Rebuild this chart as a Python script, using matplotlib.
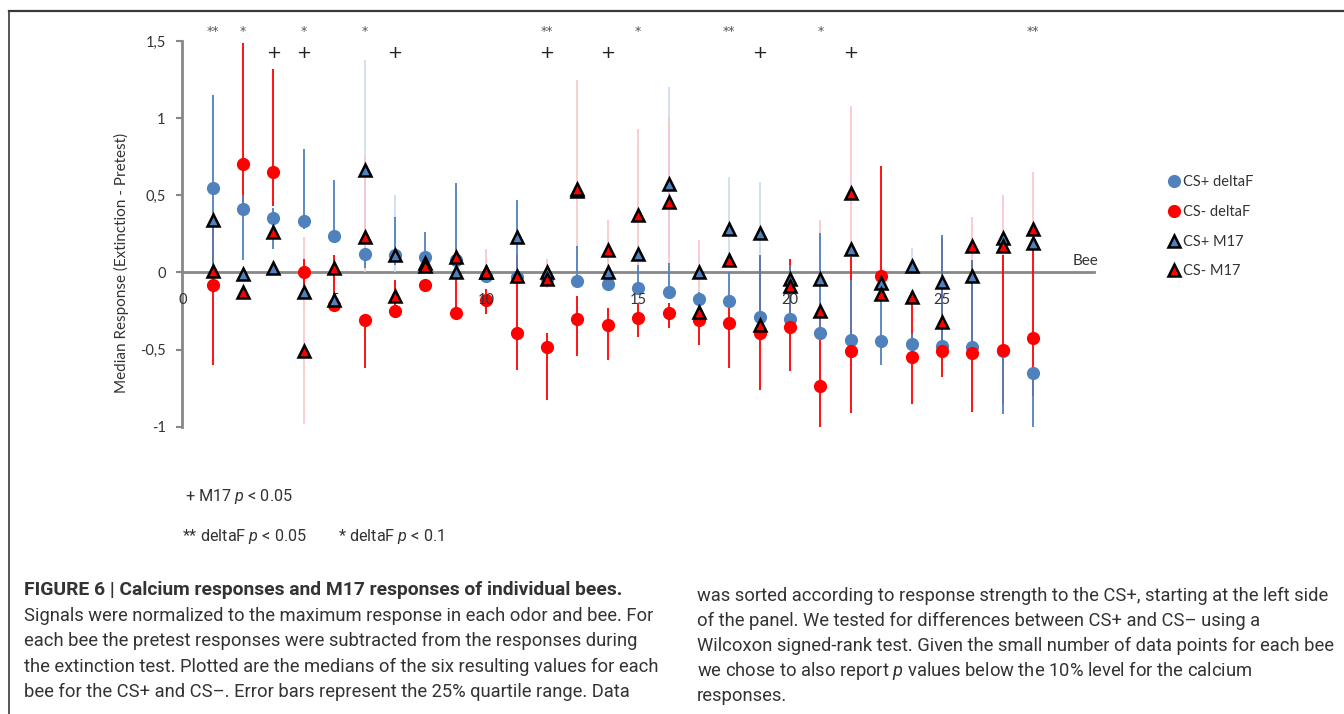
import numpy as np
import matplotlib
matplotlib.use('Agg')
import matplotlib.pyplot as plt
from matplotlib.lines import Line2D

plt.rcParams['mathtext.fontset'] = 'custom'
plt.rcParams['mathtext.it'] = 'Roboto:italic'
plt.rcParams['mathtext.rm'] = 'Roboto'

# ---- data (bees sorted by CS+ response) ----
bees = np.arange(1, 29)

csp_df = [0.55, 0.41, 0.355, 0.335, 0.235, 0.117, 0.11, 0.10, 0.08, -0.02, -0.03, -0.04, -0.055, -0.075,
          -0.10, -0.125, -0.17, -0.185, -0.29, -0.30, -0.395, -0.44, -0.445, -0.465, -0.475, -0.485, -0.51, -0.65]
csp_df_lo = [0.0, 0.08, 0.15, 0.28, 0.20, 0.03, 0.05, 0.05, 0.0, -0.05, -0.05, -0.05, -0.06, -0.09,
             -0.10, -0.125, -0.20, -0.20, -0.30, -0.31, -0.40, -0.45, -0.60, -0.48, -0.49, -0.50, -0.92, -1.0]
csp_df_hi = [1.15, 0.50, 0.42, 0.80, 0.60, 0.15, 0.36, 0.26, 0.58, 0.02, 0.47, 0.0, 0.17, -0.05,
             0.05, 0.06, -0.13, 0.0, 0.11, 0.05, 0.255, -0.05, -0.15, -0.40, 0.24, 0.08, -0.50, -0.62]

csm_df = [-0.08, 0.70, 0.65, 0.0, -0.21, -0.31, -0.25, -0.08, -0.265, -0.18, -0.39, -0.485, -0.30, -0.34,
          -0.295, -0.265, -0.31, -0.33, -0.395, -0.355, -0.735, -0.51, -0.025, -0.55, -0.51, -0.525, -0.50, -0.425]
csm_df_lo = [-0.60, 0.45, 0.43, -0.10, -0.22, -0.62, -0.26, -0.10, -0.27, -0.27, -0.63, -0.83, -0.54, -0.57,
             -0.42, -0.36, -0.47, -0.62, -0.76, -0.64, -1.0, -0.91, -0.10, -0.85, -0.68, -0.905, -0.85, -0.80]
csm_df_hi = [0.30, 1.49, 1.32, 0.09, 0.11, -0.31, -0.05, -0.05, -0.03, -0.11, 0.11, -0.39, -0.15, -0.23,
             -0.20, -0.20, -0.20, -0.20, 0.115, 0.09, -0.30, 0.10, 0.69, -0.20, 0.22, 0.08, 0.11, 0.17]

csp_m17 = [0.34, -0.01, 0.03, -0.13, -0.18, 0.665, 0.11, 0.06, 0.0, 0.0, 0.23, 0.0, 0.53, 0.0,
           0.12, 0.57, 0.0, 0.28, 0.255, -0.045, -0.04, 0.155, -0.07, 0.04, -0.065, -0.02, 0.225, 0.19]
csp_m17_lo = [0.34, -0.01, 0.03, -0.13, -0.18, 0.02, 0.0, 0.06, 0.0, 0.0, 0.23, 0.0, 0.53, 0.0,
              0.12, 0.10, 0.0, 0.05, 0.10, -0.045, -0.04, 0.155, -0.07, 0.0, -0.065, -0.02, 0.225, 0.19]
csp_m17_hi = [0.34, -0.01, 0.03, -0.13, -0.18, 1.38, 0.50, 0.06, 0.0, 0.0, 0.23, 0.0, 0.53, 0.0,
              0.12, 1.20, 0.0, 0.62, 0.585, -0.045, -0.04, 0.155, -0.07, 0.16, -0.065, -0.02, 0.225, 0.19]

csm_m17 = [0.01, -0.125, 0.26, -0.51, 0.03, 0.23, -0.15, 0.04, 0.10, 0.0, -0.02, -0.04, 0.54, 0.145,
           0.37, 0.455, -0.255, 0.08, -0.34, -0.09, -0.25, 0.515, -0.14, -0.16, -0.32, 0.17, 0.17, 0.28]
csm_m17_lo = [0.01, -0.125, 0.26, -0.98, 0.03, 0.0, -0.15, 0.04, 0.10, -0.05, -0.02, -0.10, -0.10, 0.0,
              0.0, 0.0, -0.30, 0.08, -0.34, -0.09, -0.30, 0.10, -0.14, -0.16, -0.32, 0.05, 0.0, 0.20]
csm_m17_hi = [0.01, -0.125, 0.26, 0.23, 0.03, 0.75, -0.15, 0.04, 0.10, 0.15, -0.02, 0.09, 1.25, 0.34,
              0.93, 1.00, 0.21, 0.08, -0.34, -0.09, 0.34, 1.08, -0.14, -0.16, -0.32, 0.36, 0.50, 0.65]

star_bees = [1, 2, 4, 6, 12, 15, 18, 21, 28]
star_marks = ['**', '*', '*', '*', '**', '*', '**', '*', '**']
plus_bees = [3, 4, 7, 12, 14, 19, 22]

xtick_vals = [0, 5, 10, 15, 20, 25]
ytick_vals = [-1, -0.5, 0, 0.5, 1, 1.5]
ytick_labels = ['-1', '-0,5', '0', '0,5', '1', '1,5']

caption_title = 'FIGURE 6 | Calcium responses and M17 responses of individual bees.'
caption_left = [
    'Signals were normalized to the maximum response in each odor and bee. For',
    'each bee the pretest responses were subtracted from the responses during',
    'the extinction test. Plotted are the medians of the six resulting values for each',
    'bee for the CS+ and CS\u2013. Error bars represent the 25% quartile range. Data',
]
caption_right = [
    'was sorted according to response strength to the CS+, starting at the left side',
    'of the panel. We tested for differences between CS+ and CS\u2013 using a',
    'Wilcoxon signed-rank test. Given the small number of data points for each bee',
    'we chose to also report $p$ values below the 10% level for the calcium',
    'responses.',
]

BLUE = '#4f81bd'
RED = '#ff0000'
LIGHT_BLUE = '#c9daf0'
PINK = '#f9c3c9'
AXIS_GRAY = '#888888'

W, H = 1344, 714
fig = plt.figure(figsize=(W / 100, H / 100), dpi=100)
renderer = fig.canvas.get_renderer()

x0_px, x30_px = 182.3, 1094.0
ytop_px, ybot_px = 41.0, 426.7
ax = fig.add_axes([x0_px / W, 1 - ybot_px / H, (x30_px - x0_px) / W, (ybot_px - ytop_px) / H])
ax.set_xlim(0, 30)
ax.set_ylim(-1, 1.5)


def yerr(v, lo, hi):
    v, lo, hi = np.array(v), np.array(lo), np.array(hi)
    return [np.maximum(v - lo, 0), np.maximum(hi - v, 0)]


# error bars: M17 light, deltaF saturated
ax.errorbar(bees, csp_m17, yerr=yerr(csp_m17, csp_m17_lo, csp_m17_hi), fmt='none',
            ecolor=LIGHT_BLUE, elinewidth=1.2, zorder=1)
ax.errorbar(bees, csm_m17, yerr=yerr(csm_m17, csm_m17_lo, csm_m17_hi), fmt='none',
            ecolor=PINK, elinewidth=1.2, zorder=1)
ax.errorbar(bees, csm_df, yerr=yerr(csm_df, csm_df_lo, csm_df_hi), fmt='none',
            ecolor=RED, elinewidth=1.3, zorder=2)
ax.errorbar(bees, csp_df, yerr=yerr(csp_df, csp_df_lo, csp_df_hi), fmt='none',
            ecolor=BLUE, elinewidth=1.3, zorder=2.5)

ax.plot(bees, csp_df, 'o', color=BLUE, ms=9.5, mew=0, zorder=3, label='CS+ deltaF')
ax.plot(bees, csm_df, 'o', color=RED, ms=9.5, mew=0, zorder=4, label='CS- deltaF')
ax.plot(bees, csp_m17, '^', mfc=BLUE, mec='black', ms=9, mew=1.8, ls='none', zorder=5, label='CS+ M17')
ax.plot(bees, csm_m17, '^', mfc=RED, mec='black', ms=9, mew=1.8, ls='none', zorder=6, label='CS- M17')

for b, s in zip(star_bees, star_marks):
    ax.text(b, 1.56, s, ha='center', va='center', fontsize=9, color='#555555', clip_on=False)
for b in plus_bees:
    ax.text(b, 1.42, '+', ha='center', va='center', fontsize=13, color='#222222', clip_on=False)

# axes styling (Excel look: x axis crosses at 0)
for side in ['top', 'right']:
    ax.spines[side].set_visible(False)
ax.spines['bottom'].set_position(('data', 0))
for side in ['left', 'bottom']:
    ax.spines[side].set_color(AXIS_GRAY)
    ax.spines[side].set_linewidth(2)
    ax.spines[side].set_zorder(0.5)

ax.set_xticks(xtick_vals)
ax.set_xticklabels([str(v) for v in xtick_vals], family='Lato', fontsize=10.5, color='#333333')
ax.tick_params(axis='x', length=0, pad=15)
ax.xaxis.set_zorder(4.5)
ax.set_yticks(ytick_vals)
ax.set_yticklabels(ytick_labels, family='Lato', fontsize=10.5, color='#333333')
ax.tick_params(axis='y', length=4, width=1.5, color=AXIS_GRAY, pad=8)

ax.text(29.3, 0.076, 'Bee', ha='left', va='center', family='Lato', fontsize=11, color='#333333', clip_on=False)
fig.text(121 / W, 1 - 263 / H, 'Median Response (Extinction - Pretest)', rotation=90,
         ha='center', va='center', family='Lato', fontsize=11, color='#333333')

leg = ax.legend(loc='upper left', bbox_to_anchor=(1169.5 / W, 1 - 175.5 / H), bbox_transform=fig.transFigure,
                frameon=False, borderpad=0, borderaxespad=0, handlelength=0.6, handletextpad=0.3,
                labelspacing=1.07, prop={'family': 'Lato', 'size': 10.5})
for t in leg.get_texts():
    t.set_color('#333333')

# figure frame lines
fig.add_artist(Line2D([9 / W, 1], [1 - 11 / H, 1 - 11 / H], color='#3a3a3a', lw=1.6))
fig.add_artist(Line2D([9 / W, 9 / W], [0, 1 - 11 / H], color='#3a3a3a', lw=1.2))


def put(x, y, s, size, **kw):
    return fig.text(x / W, 1 - y / H, s, fontsize=size, ha='left', va='center', color='#333333', **kw)


def fit_size(s, width, **kw):
    t = fig.text(0, 0, s, fontsize=10, **kw)
    w = t.get_window_extent(renderer).width
    t.remove()
    return 10 * width / w


# significance key
p_size = fit_size('+ M17 $p$ < 0.05', 108, family='Roboto')
put(185, 497, '+ M17 $p$ < 0.05', p_size, family='Roboto')
put(182, 537, '** deltaF $p$ < 0.05', p_size, family='Roboto')
put(338, 537, '* deltaF $p$ < 0.1', p_size, family='Roboto')

# caption
title_size = fit_size(caption_title, 600, family='Roboto', weight='bold')
put(24, 590, caption_title, title_size, family='Roboto', weight='bold')
left_size = fit_size(caption_left[0], 629, family='Roboto')
for i, line in enumerate(caption_left):
    put(24, 616 + i * 25.3, line, left_size, family='Roboto')
right_size = fit_size(caption_right[2], 636, family='Roboto')
for i, line in enumerate(caption_right):
    put(697, 596 + i * 25, line, right_size, family='Roboto')

fig.savefig('out.png', dpi=100)
